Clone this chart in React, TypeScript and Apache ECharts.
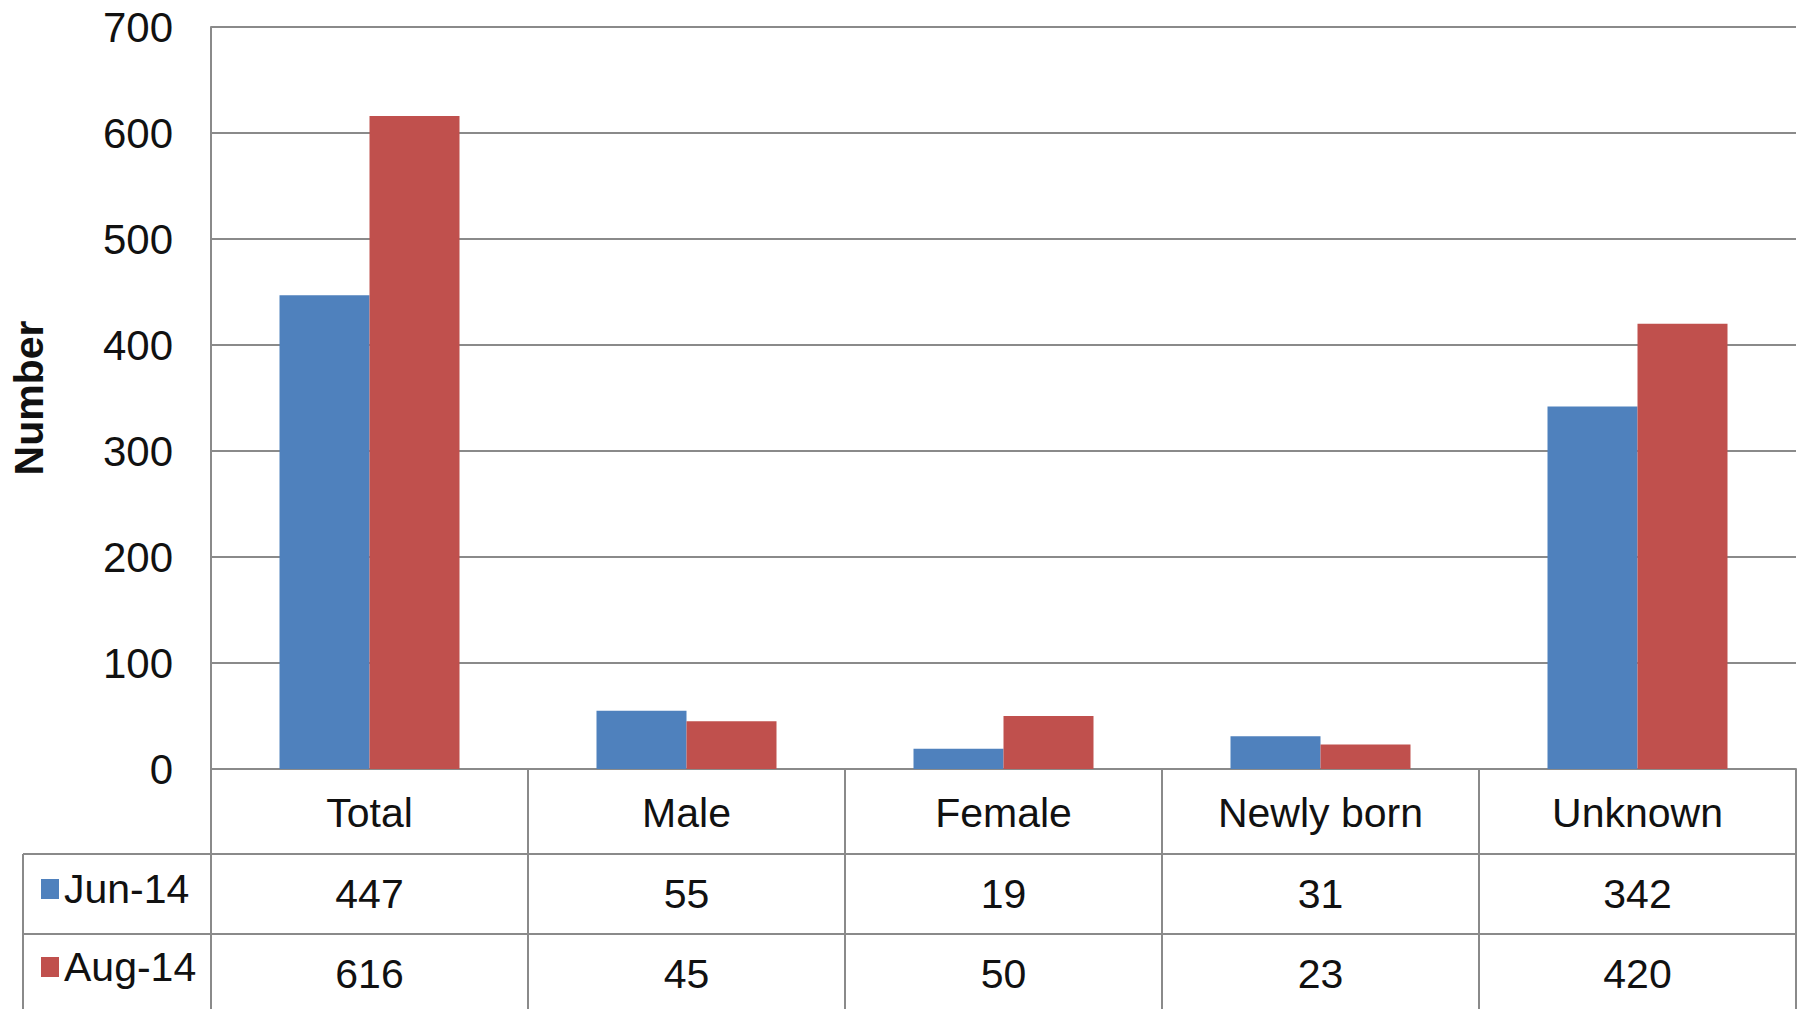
import React, { useEffect, useRef } from "react";
import * as echarts from "echarts";

const categories = ["Total", "Male", "Female", "Newly born", "Unknown"];
const seriesNames = ["Jun-14", "Aug-14"];
const jun14 = [447, 55, 19, 31, 342];
const aug14 = [616, 45, 50, 23, 420];
const colors = ["#4F81BD", "#C0504D"];

const W = 1816;
const H = 1009;
const GRID_LEFT = 210;
const GRID_RIGHT = 20;
const GRID_TOP = 27;
const GRID_BOTTOM = 240;
const ROW_H = 80;
const HEADER_H = 85;
const TABLE_LEFT = 23;
const FONT = "'Liberation Sans', Arial, sans-serif";
const FS = 41;
const LINE = "#8a8a8a";

export default function App() {
  const ref = useRef<HTMLDivElement>(null);
  useEffect(() => {
    if (!ref.current) return;
    const chart = echarts.init(ref.current, null, { renderer: "svg" });
    const axisY = H - GRID_BOTTOM;
    const row1Top = axisY + HEADER_H;
    const row2Top = row1Top + ROW_H;
    const rightX = W - GRID_RIGHT;
    chart.setOption({
      animation: false,
      backgroundColor: "#ffffff",
      textStyle: { fontFamily: FONT },
      grid: { left: GRID_LEFT, right: GRID_RIGHT, top: GRID_TOP, bottom: GRID_BOTTOM },
      legend: {
        data: seriesNames,
        orient: "vertical",
        left: 36,
        top: row1Top + 7,
        itemWidth: 18,
        itemHeight: 20,
        itemGap: 32,
        icon: "rect",
        textStyle: { fontSize: FS, fontFamily: FONT, color: "#111", lineHeight: 46 },
      },
      xAxis: [
        {
          type: "category",
          data: categories,
          position: "bottom",
          axisLine: { show: true, lineStyle: { color: LINE, width: 2 } },
          axisTick: { show: true, length: H - axisY, lineStyle: { color: LINE, width: 2 } },
          axisLabel: { fontSize: FS, color: "#111", fontFamily: FONT, margin: 44, verticalAlign: "middle" },
        },
        {
          type: "category",
          data: jun14.map(String),
          position: "bottom",
          offset: HEADER_H,
          axisLine: { show: false },
          axisTick: { show: false },
          axisLabel: { fontSize: FS, color: "#111", fontFamily: FONT, margin: 40, verticalAlign: "middle" },
        },
        {
          type: "category",
          data: aug14.map(String),
          position: "bottom",
          offset: HEADER_H + ROW_H,
          axisLine: { show: false },
          axisTick: { show: false },
          axisLabel: { fontSize: FS, color: "#111", fontFamily: FONT, margin: 40, verticalAlign: "middle" },
        },
      ],
      yAxis: {
        type: "value",
        min: 0,
        max: 700,
        interval: 100,
        name: "Number",
        nameLocation: "middle",
        nameGap: 162,
        nameRotate: 90,
        nameTextStyle: { fontSize: 41, fontWeight: "bold", color: "#111", fontFamily: FONT },
        axisLine: { show: true, lineStyle: { color: LINE, width: 2 } },
        axisTick: { show: false },
        splitLine: { show: true, lineStyle: { color: LINE, width: 2 } },
        axisLabel: { fontSize: 42, color: "#111", fontFamily: FONT, margin: 38 },
      },
      series: [
        {
          name: seriesNames[0],
          type: "bar",
          data: jun14,
          barWidth: 90,
          barGap: "0%",
          itemStyle: { color: colors[0] },
        },
        {
          name: seriesNames[1],
          type: "bar",
          data: aug14,
          barWidth: 90,
          barGap: "0%",
          itemStyle: { color: colors[1] },
        },
      ],
      graphic: [
        { type: "line", shape: { x1: TABLE_LEFT, y1: row1Top, x2: rightX, y2: row1Top }, style: { stroke: LINE, lineWidth: 2 } },
        { type: "line", shape: { x1: TABLE_LEFT, y1: row2Top, x2: rightX, y2: row2Top }, style: { stroke: LINE, lineWidth: 2 } },
        { type: "line", shape: { x1: TABLE_LEFT, y1: row1Top, x2: TABLE_LEFT, y2: H }, style: { stroke: LINE, lineWidth: 2 } },
      ],
    });
    return () => chart.dispose();
  }, []);
  return (
    <div
      ref={ref}
      style={{ position: "fixed", left: 0, top: 0, width: W, height: H, background: "#fff" }}
    />
  );
}
